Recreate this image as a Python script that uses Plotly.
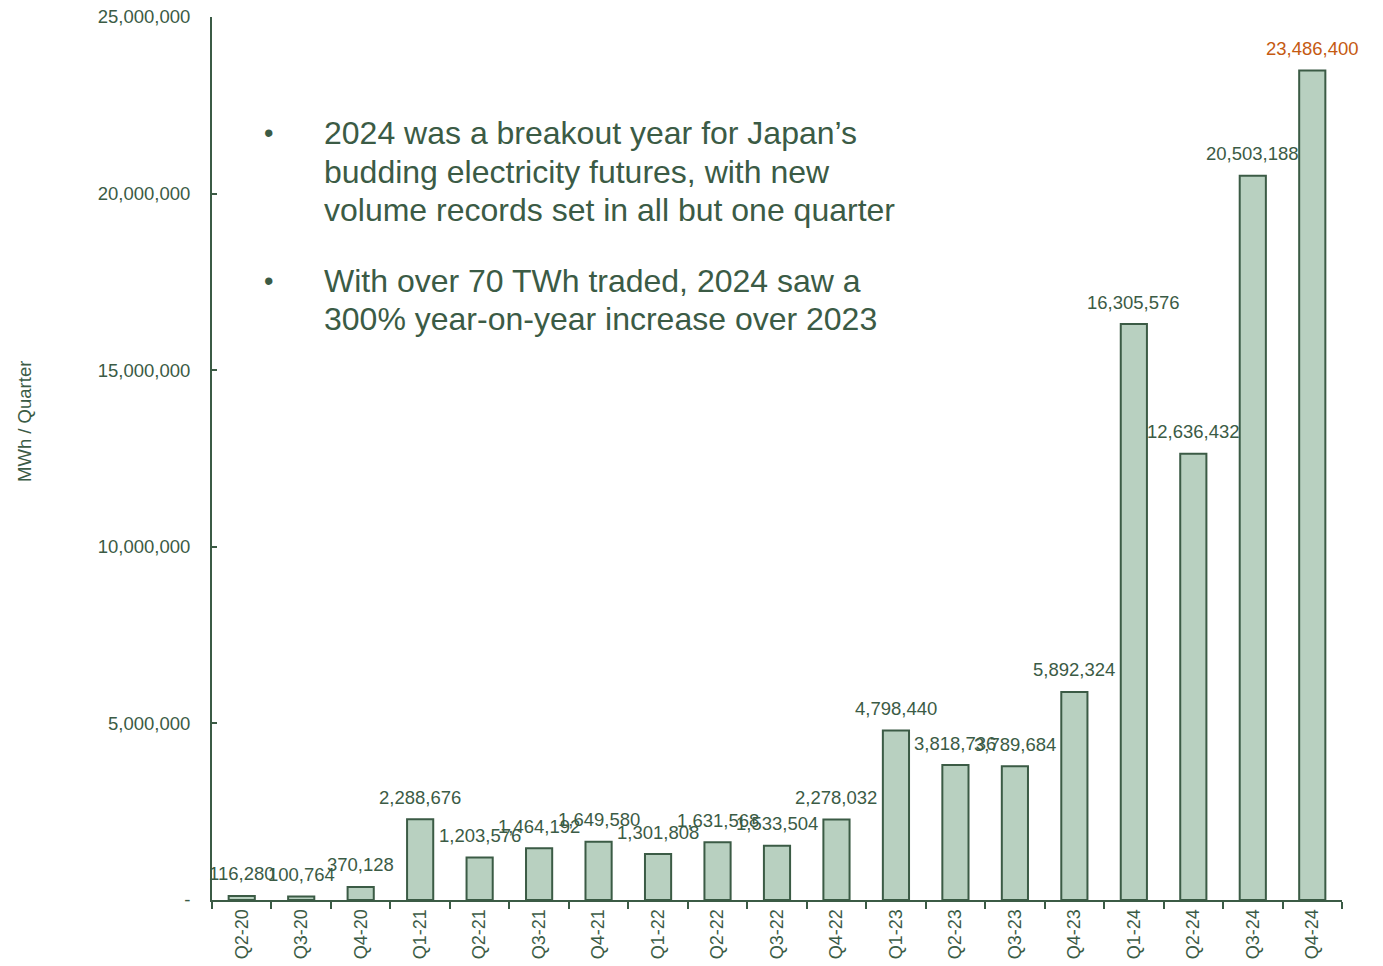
import plotly.graph_objects as go

quarters = ["Q2-20", "Q3-20", "Q4-20", "Q1-21", "Q2-21", "Q3-21", "Q4-21", "Q1-22", "Q2-22",
            "Q3-22", "Q4-22", "Q1-23", "Q2-23", "Q3-23", "Q4-23", "Q1-24", "Q2-24", "Q3-24", "Q4-24"]
volumes = [116280, 100764, 370128, 2288676, 1203576, 1464192, 1649580, 1301808, 1631568,
           1533504, 2278032, 4798440, 3818736, 3789684, 5892324, 16305576, 12636432, 20503188, 23486400]
y_tick_vals = [0, 5000000, 10000000, 15000000, 20000000, 25000000]
y_tick_text = ["-", "5,000,000", "10,000,000", "15,000,000", "20,000,000", "25,000,000"]
bullet_lines = [
    "2024 was a breakout year for Japan’s",
    "budding electricity futures, with new",
    "volume records set in all but one quarter",
    "With over 70 TWh traded, 2024 saw a",
    "300% year-on-year increase over 2023",
]
bullet_line_y = [0.8686, 0.8245, 0.7814, 0.7010, 0.6580]
bullet_start_lines = [0, 3]

GREEN = "#3b5b45"
FILL = "#b8d0c0"
ORANGE = "#c55a11"
FONT = "Arial, Liberation Sans, sans-serif"

fig = go.Figure()
fig.add_trace(go.Bar(
    x=quarters, y=volumes,
    marker=dict(color=FILL, line=dict(color=GREEN, width=2)),
    hoverinfo="skip",
))

annotations = []
for i, (q, v) in enumerate(zip(quarters, volumes)):
    annotations.append(dict(
        x=q, y=v, xref="x", yref="y", text=f"{v:,}", showarrow=False,
        yanchor="middle", yshift=22,
        font=dict(family=FONT, size=18.5, color=ORANGE if i == len(quarters) - 1 else GREEN),
    ))

# y-axis title
annotations.append(dict(
    x=-0.1655, y=0.5425, xref="paper", yref="paper", text="MWh / Quarter", textangle=-90,
    showarrow=False, xanchor="center", yanchor="middle",
    font=dict(family=FONT, size=18.5, color=GREEN),
))

# bullet paragraphs
for line, ly in zip(bullet_lines, bullet_line_y):
    annotations.append(dict(x=0.0973, y=ly, xref="paper", yref="paper", text=line,
                            showarrow=False, xanchor="left", yanchor="middle", align="left",
                            font=dict(family=FONT, size=32, color=GREEN)))
for idx in bullet_start_lines:
    annotations.append(dict(x=0.0504, y=bullet_line_y[idx], xref="paper", yref="paper", text="•",
                            showarrow=False, xanchor="center", yanchor="middle",
                            font=dict(family=FONT, size=27, color=GREEN)))

fig.update_layout(
    width=1375, height=958,
    margin=dict(l=204, r=41, t=9, b=66, autoexpand=False),
    paper_bgcolor="white", plot_bgcolor="white",
    bargap=0.56,
    showlegend=False,
    annotations=annotations,
    font=dict(family=FONT, size=18, color=GREEN),
)
fig.update_xaxes(
    type="category", range=[-0.5, len(quarters) - 0.5],
    showline=True, linecolor=GREEN, linewidth=2,
    ticks="outside", tickson="boundaries", ticklen=7, tickcolor=GREEN, tickwidth=2,
    tickangle=-90, tickfont=dict(family=FONT, size=18, color=GREEN),
    showgrid=False, automargin=False,
)
fig.update_yaxes(
    range=[0, 25000000], tickvals=y_tick_vals, ticktext=y_tick_text,
    showline=True, linecolor=GREEN, linewidth=2,
    ticks="inside", ticklen=5, tickcolor=GREEN, tickwidth=2,
    ticklabelstandoff=16, ticklabeloverflow="allow",
    tickfont=dict(family=FONT, size=18.5, color=GREEN),
    showgrid=False, zeroline=False, automargin=False,
)

fig.write_html("out.html")
